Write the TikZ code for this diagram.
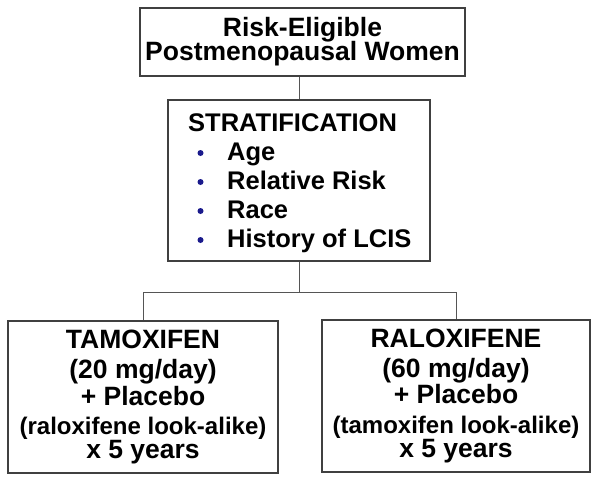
\documentclass[tikz,border=0pt]{standalone}
\usepackage{fontspec}
\setmainfont{Liberation Sans}
\definecolor{boxgray}{HTML}{404040}
\definecolor{linegray}{HTML}{555555}
\definecolor{bulletblue}{HTML}{1A1A8C}
\begin{document}
\begin{tikzpicture}[x=1pt,y=-1pt,
  box/.style={draw=boxgray, line width=1.4pt, fill=white, inner sep=0pt, rectangle},
  conn/.style={draw=linegray, line width=1pt},
  toptxt/.style={font=\bfseries\fontsize{26.5}{30}\selectfont, anchor=base, inner sep=0pt},
  txt/.style={font=\bfseries\fontsize{26.5}{30}\selectfont, anchor=base, inner sep=0pt},
  strtxt/.style={font=\bfseries\fontsize{25.5}{29}\selectfont, anchor=base west, inner sep=0pt},
  small/.style={font=\bfseries\fontsize{24}{28}\selectfont, anchor=base, inner sep=0pt},
  bul/.style={circle, fill=bulletblue, inner sep=0pt, minimum size=6pt}]
\useasboundingbox[fill=white] (0,0) rectangle (601,483);
% boxes
\node[box, minimum width=325pt, minimum height=68pt] (top) at (302.5,42) {};
\node[box, minimum width=262pt, minimum height=161pt] (strat) at (299,180.5) {};
\node[box, minimum width=270pt, minimum height=152pt] (left) at (143,397) {};
\node[box, minimum width=268pt, minimum height=152pt] (right) at (456,396) {};
% top text
\node[toptxt] (t1) at (302.5,36) {Risk-Eligible};
\node[toptxt] (t2) at (302.5,60) {Postmenopausal Women};
% stratification text
\node[strtxt] (s0) at (188,131) {STRATIFICATION};
\node[bul] (b1) at (200.5,153) {};
\node[bul] (b2) at (200.5,182) {};
\node[bul] (b3) at (200.5,211) {};
\node[bul] (b4) at (200.5,240) {};
\node[strtxt] (s1) at (227,160) {Age};
\node[strtxt] (s2) at (227,189) {Relative Risk};
\node[strtxt] (s3) at (227,218) {Race};
\node[strtxt] (s4) at (227,247) {History of LCIS};
% left box text
\node[txt] (l1) at (143,348) {TAMOXIFEN};
\node[txt] (l2) at (143,378) {(20 mg/day)};
\node[txt] (l3) at (143,405) {+ Placebo};
\node[small] (l4) at (143,434) {(raloxifene look-alike)};
\node[txt] (l5) at (143,458) {x 5 years};
% right box text
\node[txt] (r1) at (456,347) {RALOXIFENE};
\node[txt] (r2) at (456,377) {(60 mg/day)};
\node[txt] (r3) at (456,403) {+ Placebo};
\node[small] (r4) at (456,433) {(tamoxifen look-alike)};
\node[txt] (r5) at (456,457) {x 5 years};
% connectors
\coordinate (j) at (299,292);
\draw[conn] (strat.north |- top.south) -- (strat.north);
\draw[conn] (strat.south) -- (j);
\draw[conn] (left.north) |- (j) -| (right.north);
\end{tikzpicture}
\end{document}
